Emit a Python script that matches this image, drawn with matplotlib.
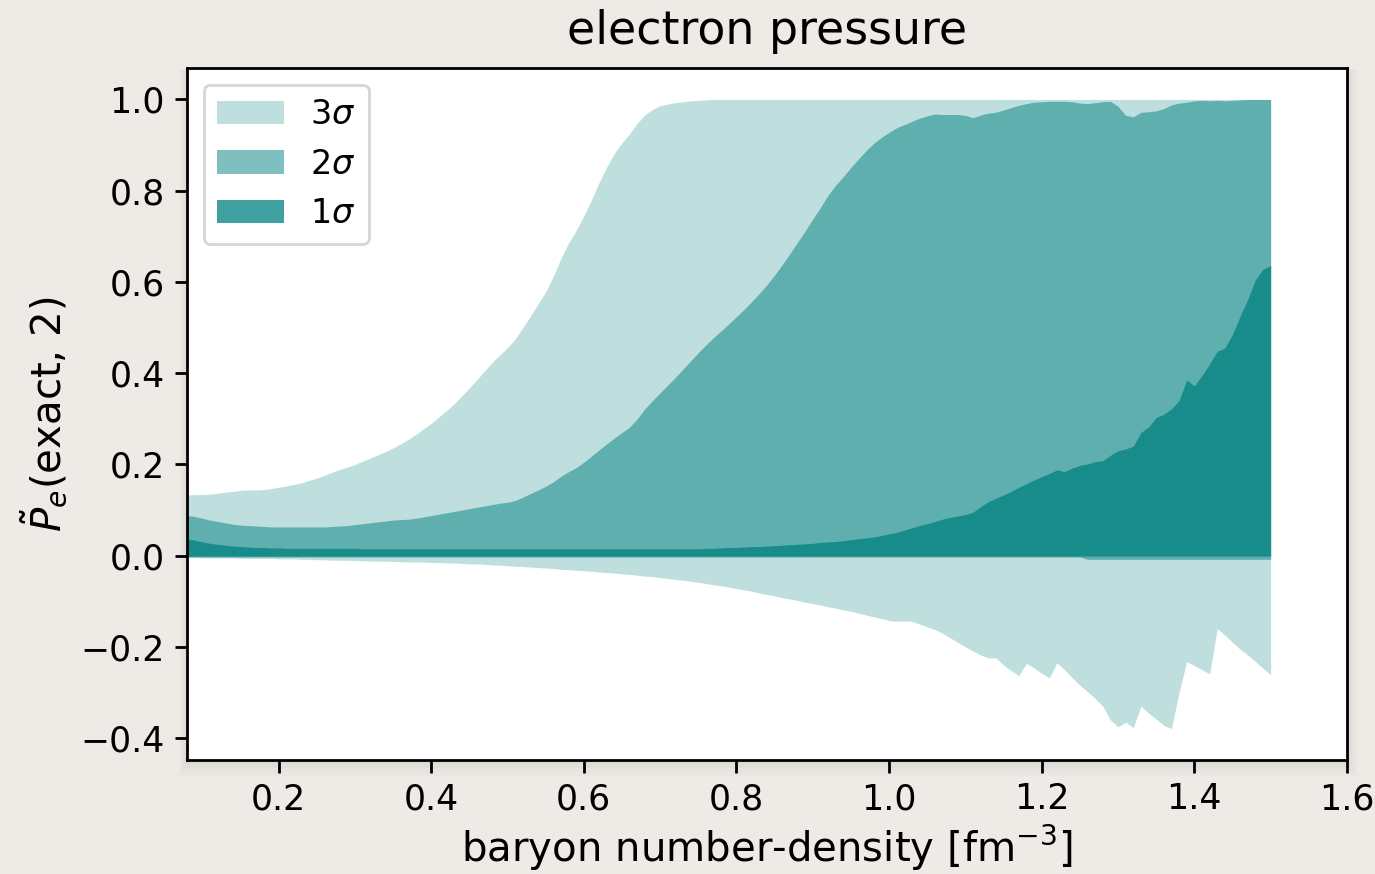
import numpy as np
import matplotlib
matplotlib.use("Agg")
import matplotlib.pyplot as plt
from matplotlib.patches import FancyBboxPatch

# baryon number-density grid [fm^-3]
density = np.round(np.arange(0.08, 1.5001, 0.01), 2)

# 3 sigma band
upper_3s = [0.133, 0.134, 0.134, 0.135, 0.137, 0.139, 0.141, 0.143, 0.144, 0.144,
            0.145, 0.147, 0.150, 0.153, 0.156, 0.160, 0.165, 0.170, 0.176, 0.183,
            0.189, 0.194, 0.200, 0.207, 0.214, 0.221, 0.228, 0.236, 0.245, 0.255,
            0.266, 0.278, 0.290, 0.304, 0.318, 0.333, 0.350, 0.368, 0.386, 0.405,
            0.424, 0.440, 0.456, 0.475, 0.500, 0.525, 0.552, 0.578, 0.612, 0.652,
            0.685, 0.713, 0.745, 0.780, 0.818, 0.852, 0.882, 0.905, 0.925, 0.948,
            0.966, 0.978, 0.986, 0.990, 0.993, 0.995, 0.997, 0.998, 0.999] + [1.0] * 74
lower_3s = [-0.004, -0.004, -0.005, -0.005, -0.005, -0.005, -0.005, -0.006, -0.006, -0.006,
            -0.006, -0.006, -0.007, -0.007, -0.007, -0.008, -0.008, -0.009, -0.009, -0.010,
            -0.010, -0.010, -0.011, -0.011, -0.012, -0.012, -0.012, -0.013, -0.013, -0.014,
            -0.014, -0.014, -0.015, -0.015, -0.016, -0.016, -0.017, -0.018, -0.018, -0.019,
            -0.020, -0.021, -0.022, -0.023, -0.024, -0.025, -0.026, -0.027, -0.028, -0.030,
            -0.031, -0.032, -0.033, -0.034, -0.036, -0.037, -0.038, -0.040, -0.041, -0.043,
            -0.045, -0.046, -0.048, -0.050, -0.052, -0.054, -0.056, -0.058, -0.061, -0.064,
            -0.066, -0.069, -0.072, -0.075, -0.078, -0.082, -0.085, -0.088, -0.092, -0.095,
            -0.098, -0.102, -0.105, -0.108, -0.112, -0.115, -0.119, -0.122, -0.126, -0.130,
            -0.134, -0.138, -0.142, -0.144, -0.143, -0.144, -0.150, -0.156, -0.162, -0.170,
            -0.180, -0.190, -0.200, -0.209, -0.218, -0.224, -0.224, -0.240, -0.252, -0.263,
            -0.236, -0.246, -0.258, -0.268, -0.235, -0.250, -0.268, -0.284, -0.298, -0.313,
            -0.330, -0.360, -0.375, -0.365, -0.377, -0.330, -0.345, -0.358, -0.372, -0.379,
            -0.300, -0.232, -0.241, -0.250, -0.259, -0.160, -0.174, -0.190, -0.205, -0.218,
            -0.232, -0.247, -0.261, -0.276][:len(density)]

# 2 sigma band
upper_2s = [0.088, 0.086, 0.082, 0.078, 0.075, 0.072, 0.069, 0.067, 0.066, 0.065,
            0.064, 0.063, 0.063, 0.063, 0.063, 0.063, 0.063, 0.063, 0.063, 0.064,
            0.065, 0.066, 0.068, 0.070, 0.072, 0.074, 0.076, 0.078, 0.079, 0.080,
            0.082, 0.085, 0.088, 0.091, 0.094, 0.097, 0.100, 0.103, 0.106, 0.109,
            0.112, 0.115, 0.117, 0.121, 0.128, 0.136, 0.144, 0.152, 0.162, 0.174,
            0.184, 0.193, 0.205, 0.218, 0.232, 0.245, 0.258, 0.270, 0.282, 0.300,
            0.322, 0.340, 0.357, 0.374, 0.391, 0.409, 0.427, 0.445, 0.462, 0.478,
            0.493, 0.508, 0.524, 0.540, 0.557, 0.575, 0.594, 0.615, 0.638, 0.662,
            0.687, 0.712, 0.738, 0.763, 0.790, 0.812, 0.831, 0.851, 0.870, 0.888,
            0.904, 0.917, 0.928, 0.938, 0.945, 0.952, 0.959, 0.964, 0.968, 0.967,
            0.967, 0.967, 0.965, 0.960, 0.966, 0.970, 0.972, 0.977, 0.982, 0.987,
            0.991, 0.994, 0.995, 0.996, 0.996, 0.996, 0.995, 0.992, 0.991, 0.993,
            0.995, 0.996, 0.985, 0.965, 0.962, 0.972, 0.973, 0.975, 0.980, 0.988,
            0.992, 0.994, 0.997, 0.998, 0.997, 0.998, 0.997, 0.998, 0.999, 1.000,
            1.000, 1.000, 1.000]
lower_2s = [-0.003] * 118 + [-0.008] * 25

# 1 sigma band
upper_1s = [0.037, 0.034, 0.030, 0.027, 0.025, 0.023, 0.021, 0.020, 0.019, 0.018,
            0.018, 0.017, 0.017, 0.016, 0.016, 0.016, 0.016, 0.016, 0.016, 0.016,
            0.016, 0.016, 0.016] + [0.015] * 45 + [
            0.016, 0.016, 0.017, 0.018, 0.018, 0.019, 0.020, 0.020, 0.021, 0.022,
            0.023, 0.024, 0.025, 0.026, 0.027, 0.029, 0.030, 0.031, 0.033, 0.035,
            0.037, 0.039, 0.041, 0.044, 0.048, 0.051, 0.056, 0.061, 0.066, 0.070,
            0.075, 0.080, 0.084, 0.087, 0.090, 0.095, 0.108, 0.118, 0.126, 0.133,
            0.141, 0.150, 0.158, 0.166, 0.173, 0.180, 0.188, 0.184, 0.192, 0.198,
            0.201, 0.206, 0.208, 0.220, 0.230, 0.234, 0.240, 0.270, 0.282, 0.303,
            0.310, 0.322, 0.340, 0.385, 0.372, 0.395, 0.420, 0.448, 0.455, 0.485,
            0.525, 0.562, 0.605, 0.628, 0.636]
lower_1s = [-0.001] * 143

band_labels = [r"$3\sigma$", r"$2\sigma$", r"$1\sigma$"]
band_alphas = [0.25, 0.5, 0.75]

fig = plt.figure(figsize=(6.875, 4.37), dpi=200, facecolor="#eeebe6")
ax = fig.add_axes([0.136, 0.1304, 0.8436, 0.7918])

# soft shadow behind the white plot area
for i, a in enumerate([0.03, 0.03, 0.04, 0.05]):
    grow = 0.010 - i * 0.0025
    fig.patches.append(FancyBboxPatch(
        (0.136 - grow * 0.6, 0.1304 - grow * 1.8), 0.8436 + grow * 1.4, 0.7918 + grow * 1.6,
        boxstyle="square,pad=0", transform=fig.transFigure,
        facecolor="#8a867e", edgecolor="none", alpha=a, zorder=-1))

bands = [(lower_3s, upper_3s), (lower_2s, upper_2s), (lower_1s, upper_1s)]
for (lo, hi), lab, al in zip(bands, band_labels, band_alphas):
    ax.fill_between(density, lo, hi, color="teal", alpha=al, lw=0, label=lab)

ax.set_xlim(0.08, 1.6)
ax.set_xticks([0.2, 0.4, 0.6, 0.8, 1.0, 1.2, 1.4, 1.6])
ax.set_yticks([-0.4, -0.2, 0.0, 0.2, 0.4, 0.6, 0.8, 1.0])
ax.set_yticklabels(["\u22120.4", "\u22120.2", "0.0", "0.2", "0.4", "0.6", "0.8", "1.0"])
ax.tick_params(labelsize=12.5, length=4.5, width=1.0)
for s in ax.spines.values():
    s.set_linewidth(1.0)

ax.set_title("electron pressure", fontsize=16.5, pad=8.5)
ax.set_xlabel(r"baryon number-density [fm$^{-3}$]", fontsize=14.5, labelpad=2.5)
ax.set_ylabel(r"$\tilde{P}_e$(exact, 2)", fontsize=14.5)
ax.legend(loc="upper left", fontsize=12)

fig.savefig("out.png", dpi=200, facecolor=fig.get_facecolor())
